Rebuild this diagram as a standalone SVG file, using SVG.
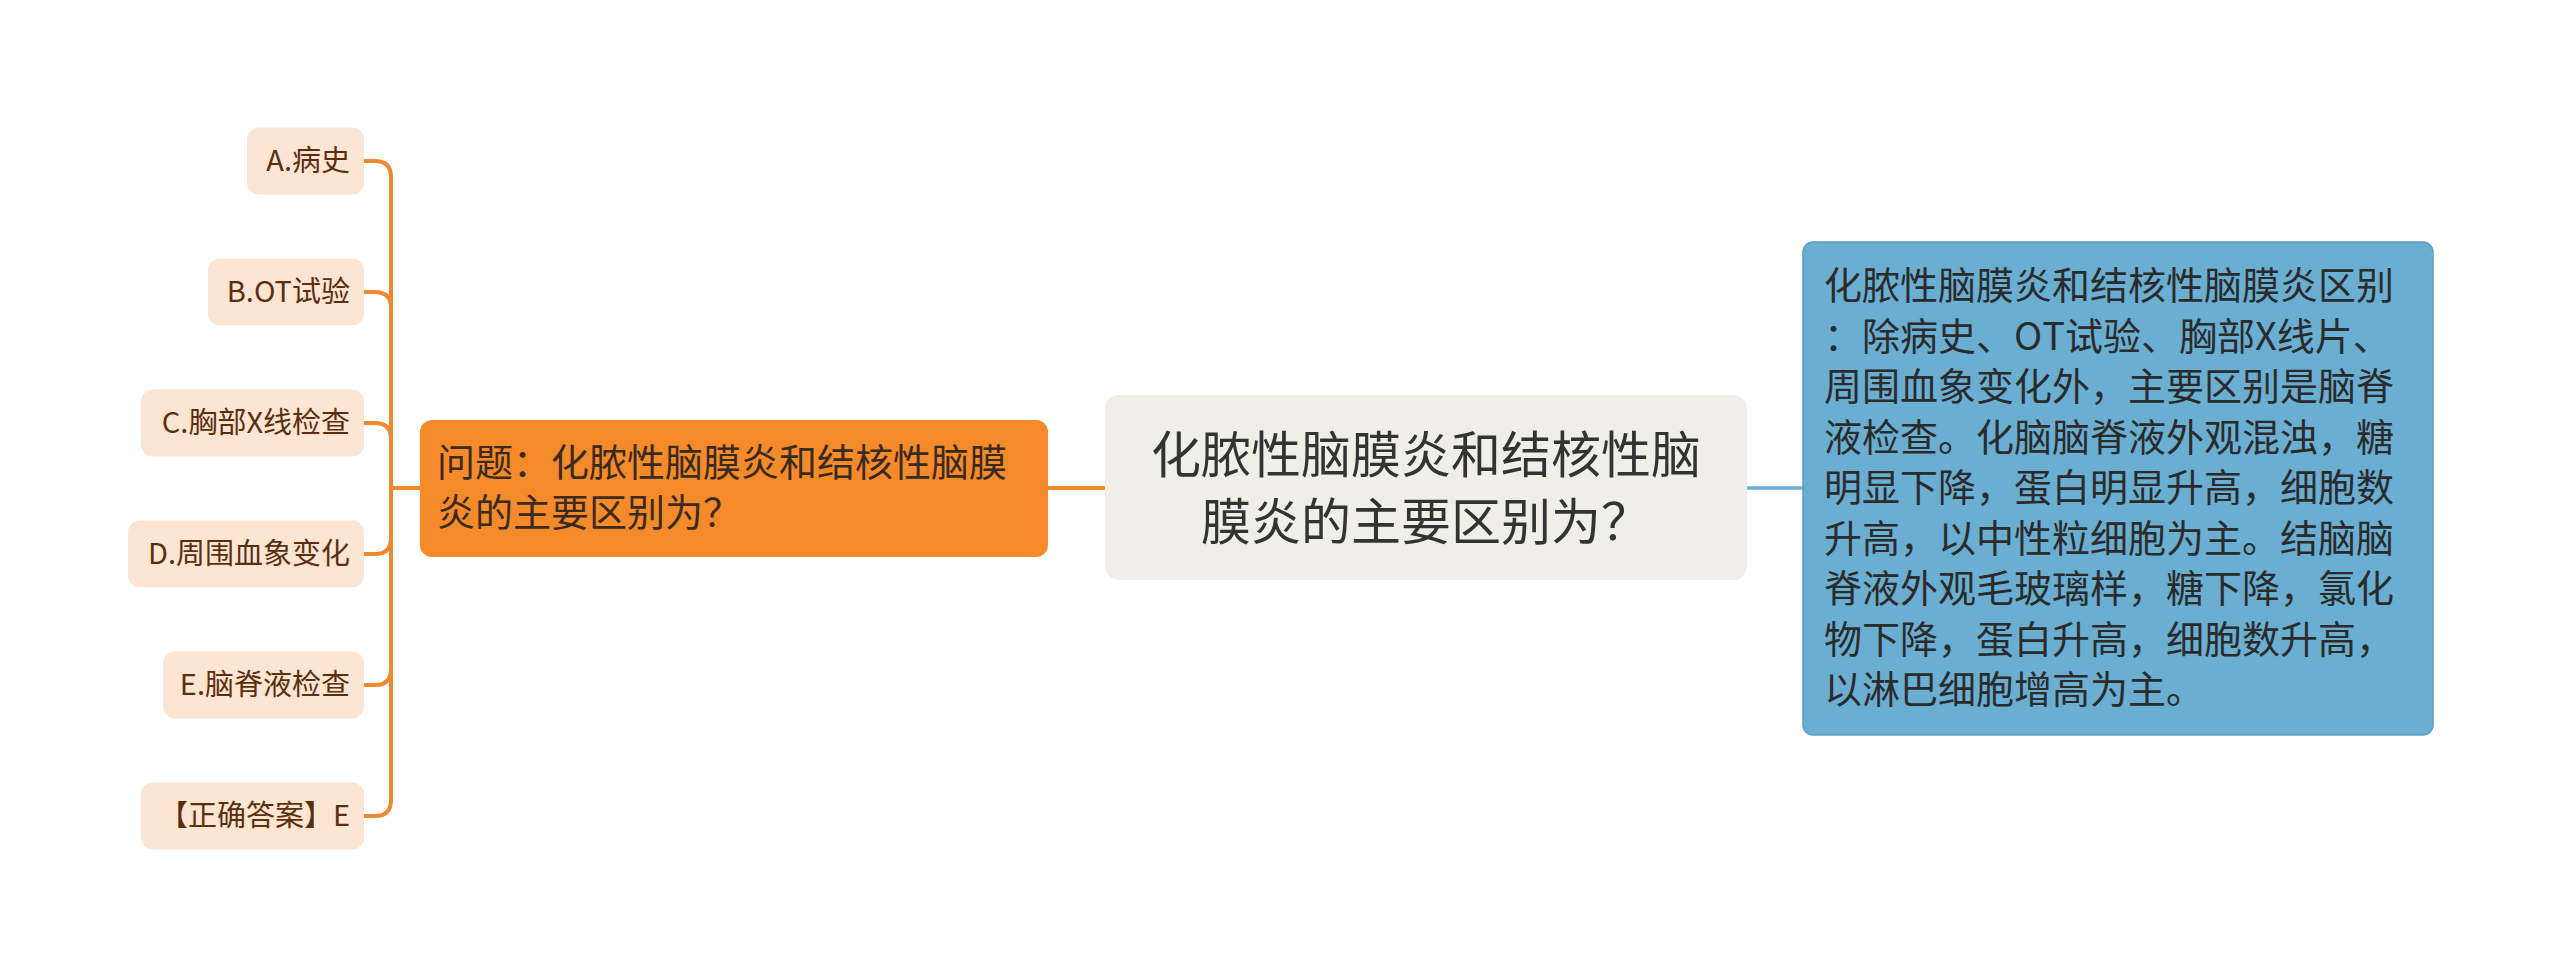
<svg xmlns="http://www.w3.org/2000/svg" width="2560" height="977" viewBox="0 0 2560 977">
<style>
.leaf rect{fill:#FCE5D3;}
.leaf text{font-family:"Noto Sans CJK SC","Noto Sans",sans-serif;font-size:29px;fill:#5B2E0E;text-anchor:end;}
.oc{fill:none;stroke:#F0892D;stroke-width:4;stroke-linecap:round;}
.bc{fill:none;stroke:#6AAED1;stroke-width:3.5;}
.t{font-family:"Noto Sans CJK SC","Noto Sans",sans-serif;}
</style>
<rect width="2560" height="977" fill="#FFFFFF"/>
<g id="connectors">
<path class="oc" d="M420 488 H391 V177 Q391 161 375 161 H364"/>
<path class="oc" d="M391 488 V308 Q391 292 375 292 H364"/>
<path class="oc" d="M391 488 V439 Q391 423 375 423 H364"/>
<path class="oc" d="M391 488 V538 Q391 554 375 554 H364"/>
<path class="oc" d="M391 488 V669 Q391 685 375 685 H364"/>
<path class="oc" d="M391 488 V800 Q391 816 375 816 H364"/>
<path class="oc" d="M1048 488 H1105"/>
<path class="bc" d="M1747 488 H1803"/>
</g>
<g id="leafA" class="leaf"><rect x="247" y="127.5" width="117" height="67" rx="12"/><text x="350" y="171">A.病史</text></g>
<g id="leafB" class="leaf"><rect x="208" y="258.5" width="156" height="67" rx="12"/><text x="350" y="302">B.OT试验</text></g>
<g id="leafC" class="leaf"><rect x="141" y="389.5" width="223" height="67" rx="12"/><text x="350" y="433">C.胸部X线检查</text></g>
<g id="leafD" class="leaf"><rect x="128" y="520.5" width="236" height="67" rx="12"/><text x="350" y="564">D.周围血象变化</text></g>
<g id="leafE" class="leaf"><rect x="163" y="651.5" width="201" height="67" rx="12"/><text x="350" y="695">E.脑脊液检查</text></g>
<g id="leafAns" class="leaf"><rect x="141" y="782.5" width="223" height="67" rx="12"/><text x="350" y="826">【正确答案】E</text></g>
<g id="question">
<rect x="420" y="420" width="628" height="137" rx="12" fill="#F58A2B"/>
<text class="t" font-size="38" fill="#3A2B1E"><tspan x="437" y="476">问题：化脓性脑膜炎和结核性脑膜</tspan><tspan x="437" y="526">炎的主要区别为？</tspan></text>
</g>
<g id="root">
<rect x="1105" y="395" width="642" height="185" rx="14" fill="#EFEFE7"/>
<text class="t" font-size="50" fill="#333333" text-anchor="middle"><tspan x="1426" y="473">化脓性脑膜炎和结核性脑</tspan><tspan x="1426" y="540">膜炎的主要区别为？</tspan></text>
</g>
<g id="answer">
<rect x="1803" y="242" width="630" height="493" rx="10" fill="#6AAED2" stroke="#5A9EC4" stroke-width="1.5"/>
<text class="t" font-size="38" fill="#2B2B2B">
<tspan x="1824" y="299">化脓性脑膜炎和结核性脑膜炎区别</tspan>
<tspan x="1824" y="349.5">：除病史、OT试验、胸部X线片、</tspan>
<tspan x="1824" y="400">周围血象变化外，主要区别是脑脊</tspan>
<tspan x="1824" y="450.5">液检查。化脑脑脊液外观混浊，糖</tspan>
<tspan x="1824" y="501">明显下降，蛋白明显升高，细胞数</tspan>
<tspan x="1824" y="551.5">升高，以中性粒细胞为主。结脑脑</tspan>
<tspan x="1824" y="602">脊液外观毛玻璃样，糖下降，氯化</tspan>
<tspan x="1824" y="652.5">物下降，蛋白升高，细胞数升高，</tspan>
<tspan x="1824" y="703">以淋巴细胞增高为主。</tspan>
</text>
</g>
</svg>
